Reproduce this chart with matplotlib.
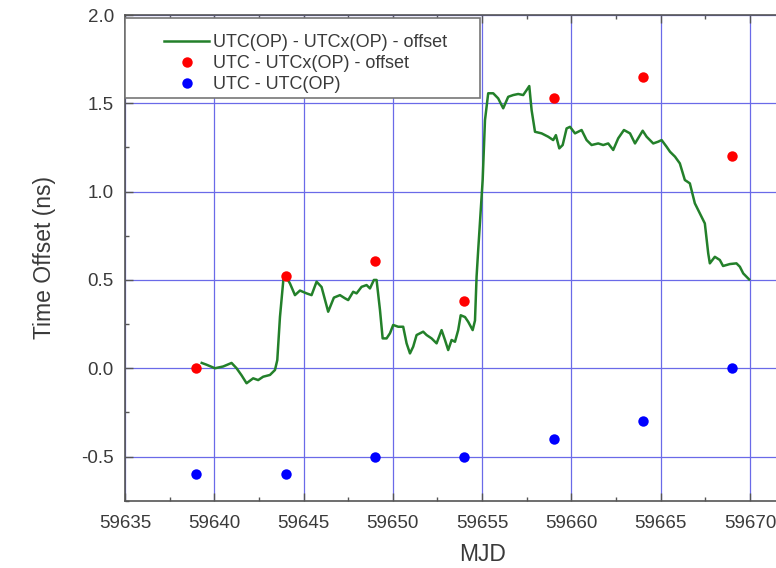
import numpy as np
import matplotlib
matplotlib.use("Agg")
import matplotlib.pyplot as plt
from matplotlib.patches import Rectangle
from matplotlib.ticker import MultipleLocator

plt.rcParams['font.family'] = ['Liberation Sans', 'DejaVu Sans']

# UTC(OP) - UTCx(OP) - offset (continuous trace)
mjd_line = [59639.30, 59639.57, 59640.04, 59640.50, 59640.97, 59641.25, 59641.53, 59641.81,
            59642.18, 59642.46, 59642.74, 59643.12, 59643.40, 59643.53, 59643.68, 59643.87,
            59643.96, 59644.24, 59644.52, 59644.80, 59645.17, 59645.45, 59645.73, 59646.01,
            59646.38, 59646.70, 59647.04, 59647.32, 59647.50, 59647.78, 59647.97, 59648.25,
            59648.53, 59648.72, 59648.94, 59649.09, 59649.28, 59649.43, 59649.65, 59649.84,
            59650.02, 59650.30, 59650.58, 59650.77, 59650.96, 59651.14, 59651.33, 59651.70,
            59651.89, 59652.17, 59652.45, 59652.73, 59652.92, 59653.10, 59653.29, 59653.48,
            59653.66, 59653.80, 59654.04, 59654.22, 59654.47, 59654.60, 59654.69, 59654.78,
            59655.03, 59655.16, 59655.34, 59655.62, 59655.90, 59656.18, 59656.46, 59656.74,
            59657.02, 59657.30, 59657.49, 59657.64, 59657.77, 59657.96, 59658.33, 59658.70,
            59658.98, 59659.13, 59659.32, 59659.51, 59659.73, 59659.92, 59660.20, 59660.57,
            59660.85, 59661.13, 59661.50, 59661.78, 59662.06, 59662.34, 59662.62, 59662.94,
            59663.28, 59663.56, 59663.99, 59664.21, 59664.58, 59664.86, 59665.05, 59665.33,
            59665.52, 59665.80, 59666.07, 59666.35, 59666.63, 59666.91, 59667.19, 59667.47,
            59667.66, 59667.75, 59668.03, 59668.31, 59668.49, 59668.87, 59669.24, 59669.43,
            59669.62, 59669.95]
offset_line = [0.03, 0.02, 0.00, 0.01, 0.03, 0.00, -0.04, -0.085,
               -0.057, -0.067, -0.048, -0.038, -0.01, 0.046, 0.29, 0.50,
               0.528, 0.48, 0.414, 0.44, 0.424, 0.414, 0.49, 0.46,
               0.32, 0.40, 0.414, 0.396, 0.386, 0.433, 0.424, 0.461,
               0.471, 0.452, 0.50, 0.50, 0.33, 0.169, 0.169, 0.198,
               0.245, 0.235, 0.235, 0.141, 0.084, 0.122, 0.188, 0.207,
               0.188, 0.169, 0.141, 0.216, 0.16, 0.103, 0.16, 0.15,
               0.216, 0.30, 0.29, 0.263, 0.216, 0.27, 0.52, 0.67,
               1.066, 1.405, 1.557, 1.557, 1.528, 1.472, 1.537, 1.547,
               1.553, 1.547, 1.575, 1.598, 1.462, 1.339, 1.330, 1.311,
               1.292, 1.320, 1.245, 1.264, 1.358, 1.367, 1.330, 1.349,
               1.292, 1.264, 1.273, 1.264, 1.273, 1.236, 1.302, 1.349,
               1.330, 1.273, 1.345, 1.311, 1.273, 1.283, 1.292, 1.254,
               1.226, 1.198, 1.160, 1.066, 1.047, 0.934, 0.877, 0.820,
               0.650, 0.594, 0.631, 0.613, 0.579, 0.590, 0.594, 0.575,
               0.537, 0.503]

# monthly points
mjd_pts = [59639, 59644, 59649, 59654, 59659, 59664, 59669]
utc_utcx = [0.00, 0.52, 0.61, 0.38, 1.53, 1.65, 1.20]
utc_utcop = [-0.60, -0.60, -0.50, -0.50, -0.40, -0.30, 0.00]

labels = ['UTC(OP) - UTCx(OP) - offset', 'UTC - UTCx(OP) - offset', 'UTC - UTC(OP)']

text_col = '#3a3a3a'
axis_col = '#555555'

fig = plt.figure(figsize=(7.76, 5.68), dpi=100)
ax = fig.add_axes([0.161, 0.1185, 0.9206, 0.855])

ax.plot(mjd_line, offset_line, color='#23802a', lw=1.8, label=labels[0], zorder=3)
ax.plot(mjd_pts, utc_utcx, 'o', color='#ff0000', ms=7.5, mec='none', label=labels[1], zorder=4)
ax.plot(mjd_pts, utc_utcop, 'o', color='#0000ff', ms=7.5, mec='none', label=labels[2], zorder=4)

ax.set_xlim(59635, 59675)
ax.set_ylim(-0.75, 2.0)
ax.xaxis.set_major_locator(MultipleLocator(5))
ax.xaxis.set_minor_locator(MultipleLocator(2.5))
ax.yaxis.set_major_locator(MultipleLocator(0.5))
ax.yaxis.set_minor_locator(MultipleLocator(0.25))
ax.yaxis.set_major_formatter(matplotlib.ticker.FormatStrFormatter('%.1f'))
ax.grid(True, which='major', color='#6a6ae8', lw=0.9, zorder=1)

ax.tick_params(which='both', direction='in', top=True, right=False, colors=axis_col,
               labelcolor=text_col, labelsize=13.5)
ax.tick_params(which='major', length=6, width=1)
ax.tick_params(which='minor', length=3, width=1)
for s in ax.spines.values():
    s.set_color(axis_col)
    s.set_linewidth(1.2)
ax.tick_params(axis='x', pad=10)
ax.tick_params(axis='y', pad=8)

ax.set_xlabel('MJD', fontsize=16.5, color=text_col, labelpad=8)
ax.set_ylabel('Time Offset (ns)', fontsize=16.5, color=text_col, labelpad=18)

# legend frame
ax.add_patch(Rectangle((0.0, 0.829), 0.497, 0.165, transform=ax.transAxes,
                       facecolor='white', edgecolor='#777777', lw=1.2, zorder=5))
leg = ax.legend(loc='upper left', bbox_to_anchor=(0.055, 0.96), frameon=False,
                fontsize=13, borderpad=0, handlelength=2.5, handletextpad=0.2,
                labelspacing=0.22, borderaxespad=0)
leg.set_zorder(6)
for t in leg.get_texts():
    t.set_color(text_col)

fig.savefig('out.png', dpi=100)
